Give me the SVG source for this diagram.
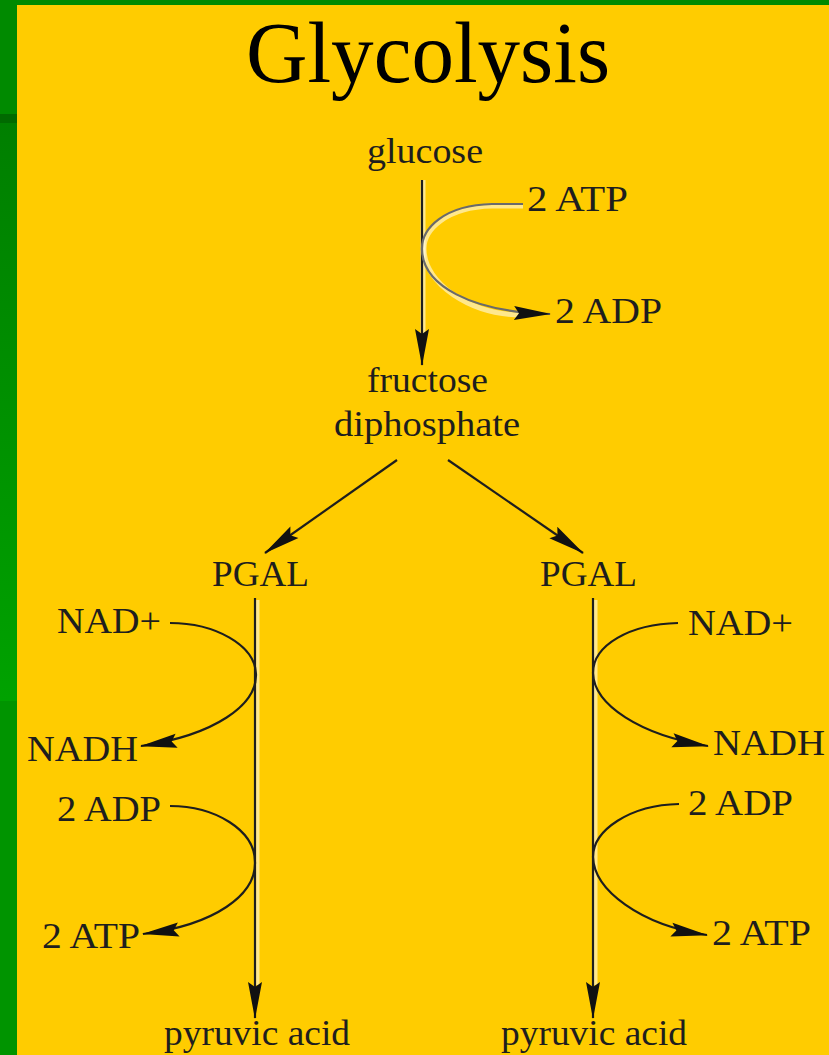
<svg xmlns="http://www.w3.org/2000/svg" width="829" height="1055" viewBox="0 0 829 1055">
<style>
.t{font-family:"Liberation Serif","Times New Roman",serif;font-size:36px;fill:#1e1e1e}
.title{font-family:"Liberation Serif","Times New Roman",serif;font-size:86px;fill:#000}
.hl{fill:none;stroke:#ffffff;stroke-opacity:0.55;stroke-width:5}
.ln{fill:none;stroke:#1e1e1e;stroke-width:2.2;marker-end:url(#ah)}
.gray{stroke:#6a6a6a}
</style>
<defs>
<marker id="ah" markerUnits="userSpaceOnUse" viewBox="-40 -9 42 18" refX="0" refY="0" markerWidth="42" markerHeight="18" orient="auto" overflow="visible">
<path d="M1,0 L-36,-7 L-31,0 L-36,7 Z" fill="#111"/>
</marker>
<linearGradient id="gstrip" x1="0" y1="0" x2="0" y2="1">
<stop offset="0" stop-color="#007f00"/>
<stop offset="1" stop-color="#00a200"/>
</linearGradient>
</defs>
<rect x="0" y="0" width="829" height="1055" fill="#ffcc00"/>
<rect x="0" y="0" width="829" height="5" fill="#008a00"/>
<rect x="0" y="0" width="17" height="114" fill="#008a00"/>
<rect x="0" y="114" width="17" height="9" fill="#006a00"/>
<rect x="0" y="123" width="17" height="578" fill="url(#gstrip)"/>
<rect x="0" y="701" width="17" height="354" fill="#009400"/>

<g id="connectors">
<path class="hl" d="M423 180 L423 340"/>
<path class="ln" d="M422 180 L422 365"/>
<path class="hl" d="M523 206 L492 206 C446 207,423 230,424 250 C425 284,470 314,520 315"/>
<path class="ln gray" d="M523 204 L492 204 C445 205,421 228,422 250 C423 285,470 312,550 314"/>
<path class="ln" d="M397 460 L265 553"/>
<path class="ln" d="M448 460 L583 553"/>
<path class="hl" d="M257 600 L257 985"/>
<path class="ln" d="M255 598 L255 1018"/>
<path class="hl" d="M595 600 L595 985"/>
<path class="ln" d="M593 598 L593 1018"/>
<path class="ln" d="M170 623 C215 623,255 645,256 674 C257 705,215 735,141 746"/>
<path class="ln" d="M170 806 C215 806,255 830,255 862 C256 895,215 925,143 934"/>
<path class="ln" d="M678 623 C630 624,593 645,593 673 C594 705,640 735,708 746"/>
<path class="ln" d="M679 804 C630 805,593 830,593 857 C594 890,640 925,707 935"/>
</g>

<g id="title"><text class="title" x="246" y="82" textLength="364" lengthAdjust="spacingAndGlyphs">Glycolysis</text></g>
<g id="glucose"><text class="t" x="367" y="163" textLength="116" lengthAdjust="spacingAndGlyphs">glucose</text></g>
<g id="atp-top"><text class="t" x="527" y="211" textLength="101" lengthAdjust="spacingAndGlyphs">2 ATP</text></g>
<g id="adp-top"><text class="t" x="555" y="323" textLength="107" lengthAdjust="spacingAndGlyphs">2 ADP</text></g>
<g id="fructose-diphosphate">
<text class="t" x="367" y="392" textLength="121" lengthAdjust="spacingAndGlyphs">fructose</text>
<text class="t" x="334" y="436" textLength="186" lengthAdjust="spacingAndGlyphs">diphosphate</text>
</g>
<g id="pgal-left"><text class="t" x="212" y="586" textLength="97" lengthAdjust="spacingAndGlyphs">PGAL</text></g>
<g id="pgal-right"><text class="t" x="540" y="586" textLength="97" lengthAdjust="spacingAndGlyphs">PGAL</text></g>
<g id="nad-left"><text class="t" x="57" y="633" textLength="104" lengthAdjust="spacingAndGlyphs">NAD+</text></g>
<g id="nadh-left"><text class="t" x="27" y="761" textLength="111" lengthAdjust="spacingAndGlyphs">NADH</text></g>
<g id="adp-left"><text class="t" x="57" y="821" textLength="104" lengthAdjust="spacingAndGlyphs">2 ADP</text></g>
<g id="atp-left"><text class="t" x="42" y="948" textLength="98" lengthAdjust="spacingAndGlyphs">2 ATP</text></g>
<g id="pyruvic-left"><text class="t" x="164" y="1045" textLength="186" lengthAdjust="spacingAndGlyphs">pyruvic acid</text></g>
<g id="nad-right"><text class="t" x="688" y="635" textLength="105" lengthAdjust="spacingAndGlyphs">NAD+</text></g>
<g id="nadh-right"><text class="t" x="713" y="755" textLength="112" lengthAdjust="spacingAndGlyphs">NADH</text></g>
<g id="adp-right"><text class="t" x="688" y="815" textLength="105" lengthAdjust="spacingAndGlyphs">2 ADP</text></g>
<g id="atp-right"><text class="t" x="712" y="945" textLength="99" lengthAdjust="spacingAndGlyphs">2 ATP</text></g>
<g id="pyruvic-right"><text class="t" x="501" y="1045" textLength="186" lengthAdjust="spacingAndGlyphs">pyruvic acid</text></g>
</svg>
